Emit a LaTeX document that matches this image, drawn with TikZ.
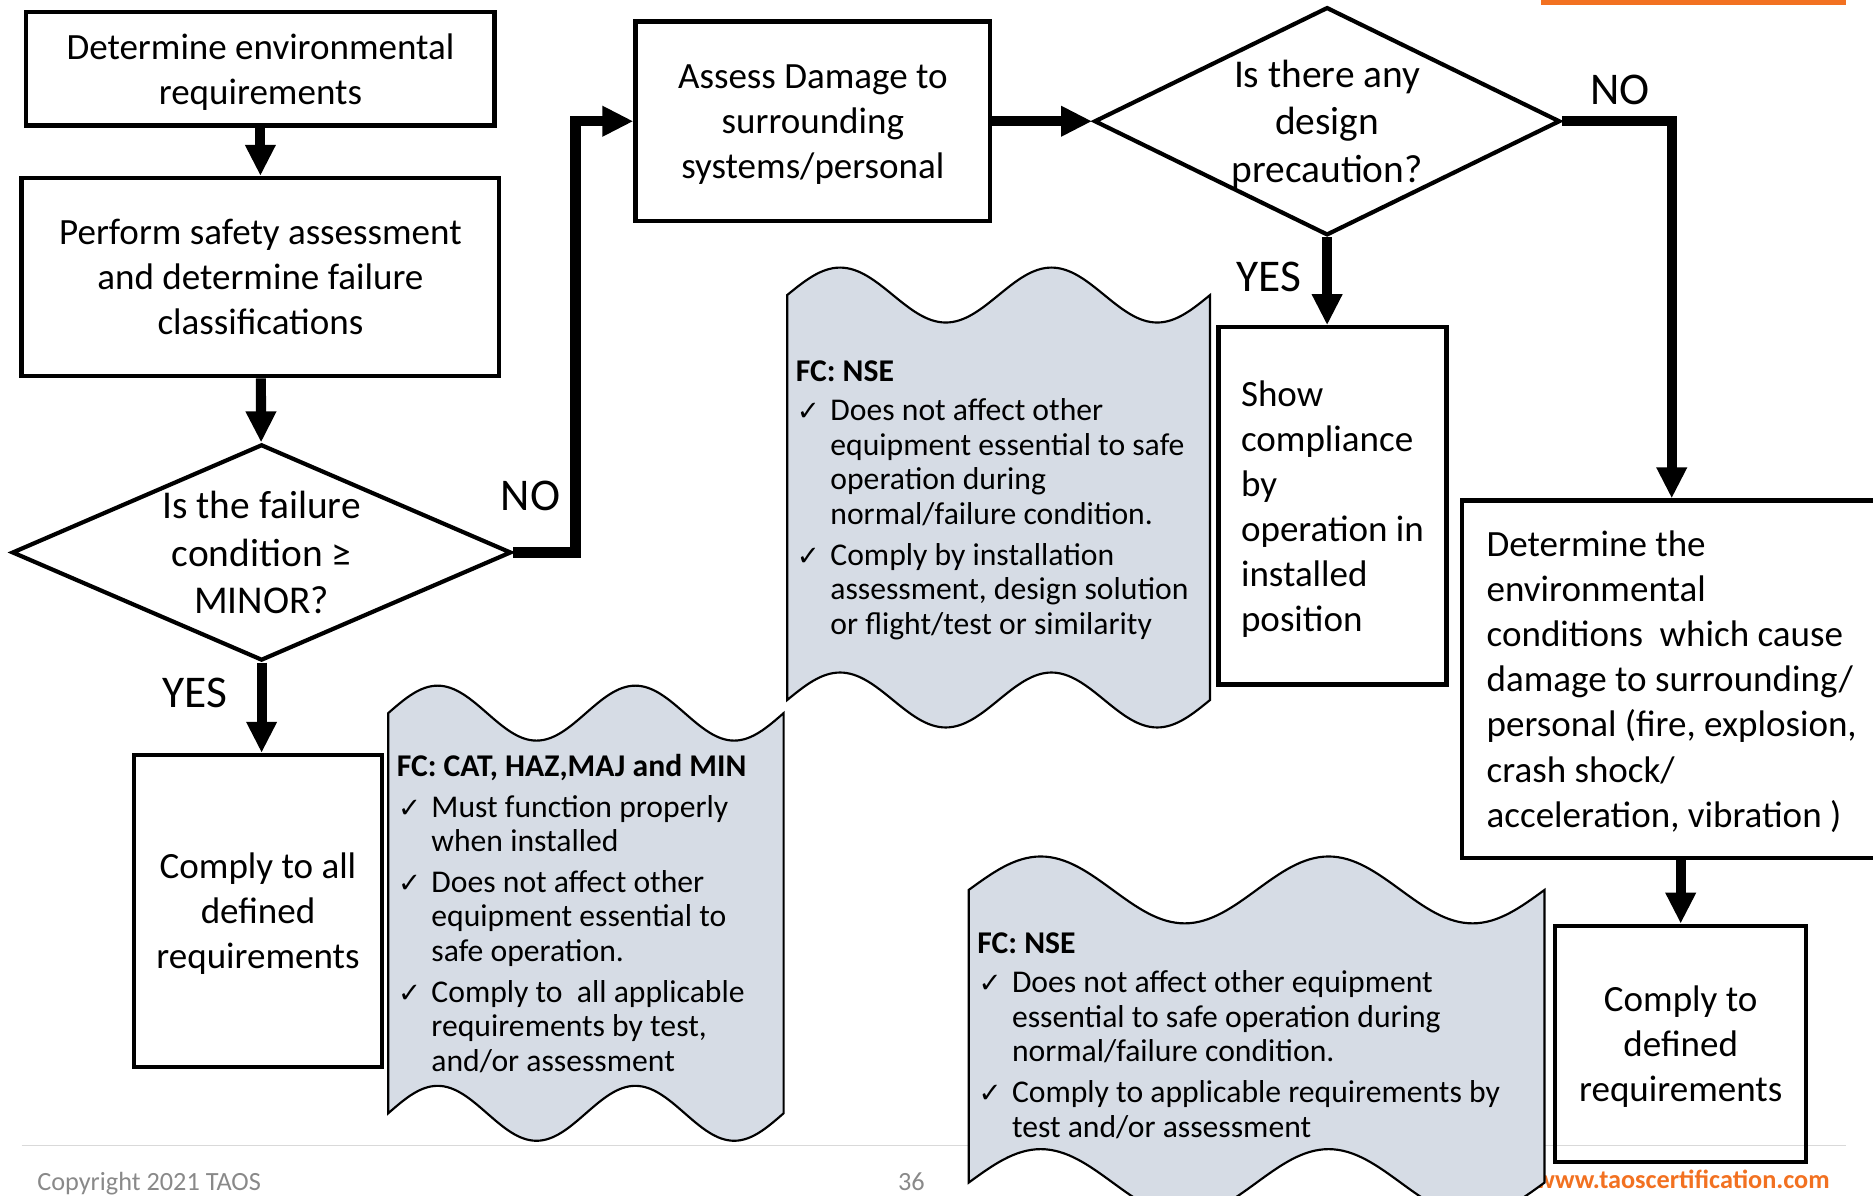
\documentclass[tikz,border=0pt]{standalone}
\usepackage{fontspec}
\setmainfont{Carlito}
\newfontfamily\tickfont{DejaVu Sans}
\usetikzlibrary{shapes.geometric,arrows.meta}
\definecolor{tapeblue}{RGB}{214,220,229}
\definecolor{taoorange}{RGB}{242,113,33}
\definecolor{footgray}{RGB}{137,137,137}
\definecolor{rulegray}{RGB}{217,217,217}
\newcommand{\tickmark}{\makebox[29pt][l]{\hspace{1pt}\tickfont\fontsize{23}{29}\selectfont ✓}}
\newcommand{\tickindent}{\hspace*{29pt}}
% left, right, top, bottom, wave height
\newcommand{\tapeshape}[5]{%
  \pgfmathsetmacro{\tw}{(#2-#1)/8}
  \draw[tape] (#1,#3)
      sin ++(\tw,-#5) cos ++(\tw,#5) sin ++(\tw,#5) cos ++(\tw,-#5)
      sin ++(\tw,-#5) cos ++(\tw,#5) sin ++(\tw,#5) cos ++(\tw,-#5)
      -- (#2,#4)
      sin ++(-\tw,#5) cos ++(-\tw,-#5) sin ++(-\tw,-#5) cos ++(-\tw,#5)
      sin ++(-\tw,#5) cos ++(-\tw,-#5) sin ++(-\tw,-#5) cos ++(-\tw,#5)
      -- cycle;}
\begin{document}
\begin{tikzpicture}[x=1pt,y=-1pt,
        proc/.style={draw, line width=3.5pt, inner sep=0pt, align=center, text depth=0pt,
            font=\fontsize{31}{37.7}\selectfont},
        decision/.style={diamond, draw, line width=3.5pt, inner sep=0pt},
        dtext/.style={align=center, inner sep=0pt, text depth=0pt, font=\fontsize{33}{40}\selectfont},
        lbl/.style={inner sep=0pt, font=\fontsize{38}{40}\selectfont},
        tape/.style={fill=tapeblue, draw=black, line width=1.8pt},
        tapetext/.style={align=left, inner sep=0pt, anchor=base west,
            font=\fontsize{26.5}{29}\selectfont},
        flow/.style={line width=8.5pt, -{Triangle[length=26pt,width=24pt]}}]
        \useasboundingbox (0,0) rectangle (1568,1001);
        % page furniture
        \draw[rulegray, line width=1.5pt] (18,959) -- (1545,959);
        \fill[taoorange] (1290,0) rectangle (1545,4);
        \node[anchor=base west, inner sep=0pt, text=footgray, font=\fontsize{22}{26}\selectfont] (copy) at (31,997) {Copyright 2021 TAOS};
        \node[anchor=base, inner sep=0pt, text=footgray, font=\fontsize{22}{26}\selectfont] (pagenum) at (763,997) {36};
        \node[anchor=base east, inner sep=0pt, text=taoorange, font=\bfseries\fontsize{22}{26}\selectfont] (web) at (1532,995) {www.taoscertification.com};

        % failure classes
        \tapeshape{325}{656}{597}{932}{23}
        \node[tapetext] (fcmin) at (332,897) {\textbf{FC: CAT, HAZ,MAJ and MIN}\\[5pt]
            \tickmark Must function properly\\
            \tickindent when installed\\[5pt]
            \tickmark Does not affect other\\
            \tickindent equipment essential to\\
            \tickindent safe operation.\\[5pt]
            \tickmark Comply to\ \ all applicable\\
            \tickindent requirements by test,\\
            \tickindent and/or assessment};
        \tapeshape{659}{1013}{247}{586}{23}
        \node[tapetext] (fcnse) at (666,531) {\textbf{FC: NSE}\\[4pt]
            \tickmark Does not affect other\\
            \tickindent equipment essential to safe\\
            \tickindent operation during\\
            \tickindent normal/failure condition.\\[5pt]
            \tickmark Comply by installation\\
            \tickindent assessment, design solution\\
            \tickindent or flight/test or similarity};
        \tapeshape{811}{1293}{745}{990}{28}
        \node[tapetext] (fcnsetwo) at (818,952) {\textbf{FC: NSE}\\[4pt]
            \tickmark Does not affect other equipment\\
            \tickindent essential to safe operation during\\
            \tickindent normal/failure condition.\\[5pt]
            \tickmark Comply to applicable requirements by\\
            \tickindent test and/or assessment};

        % left column
        \node[proc, minimum width=392pt, minimum height=95pt] (envreq) at (218,57.5) {Determine environmental\\requirements};
        \node[proc, minimum width=400pt, minimum height=166pt] (safety) at (218,232) {Perform safety assessment\\and determine failure\\classifications};
        \node[decision, minimum width=418pt, minimum height=181pt] (minor) at (219,462.5) {};
        \node[dtext] (minortext) at (minor.center) {Is the failure\\condition ≥\\MINOR?};
        \node[proc, minimum width=208pt, minimum height=261pt] (allreq) at (216,762.5) {Comply to all\\defined\\requirements};

        % right part
        \node[proc, minimum width=297pt, minimum height=167pt] (damage) at (680.5,101.5) {Assess Damage to\\surrounding\\systems/personal};
        \node[decision, minimum width=390pt, minimum height=191pt] (precaution) at (1111,101.5) {};
        \node[dtext] (precautiontext) at (precaution.center) {Is there any\\design\\precaution?};
        \node[proc, align=left, minimum width=191pt, minimum height=299pt] (showcomp) at (1115.5,423.5) {Show\\compliance\\by\\operation in\\installed\\position};
        \node[proc, align=left, minimum width=351pt, minimum height=299pt] (envcond) at (1399.5,568.5) {Determine the\\environmental\\conditions\ \ which cause\\damage to surrounding/\\personal (fire, explosion,\\crash shock/\\acceleration, vibration )};
        \node[proc, minimum width=210pt, minimum height=198pt] (defreq) at (1407,874) {Comply to\\defined\\requirements};

        \node[lbl] (yesone) at (163,580) {YES};
        \node[lbl] (noone) at (444,415) {NO};
        \node[lbl] (yestwo) at (1062,232) {YES};
        \node[lbl] (notwo) at (1356,75) {NO};

        \draw[flow] (envreq) -- (safety);
        \draw[flow] (safety) -- (minor);
        \draw[flow] (minor.south) -- (minor.south |- allreq.north);
        \draw[flow] (minor.east) -- ++(52,0) |- (damage.west);
        \draw[flow] (damage) -- (precaution);
        \draw[flow] (precaution.south) -- (precaution.south |- showcomp.north);
        \draw[flow] (precaution.east) -| (envcond.north);
        \draw[flow] (defreq.north |- envcond.south) -- (defreq.north);
    \end{tikzpicture}
\end{document}
